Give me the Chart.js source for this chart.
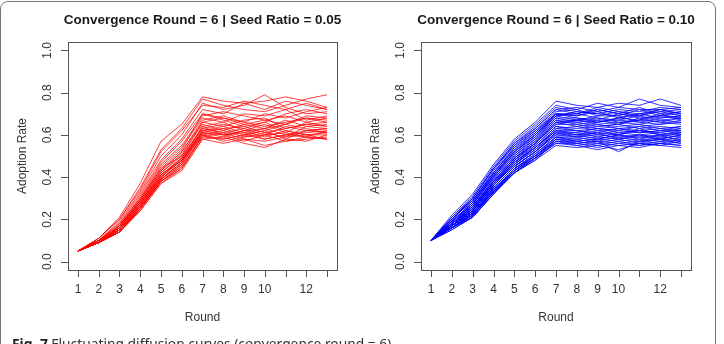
<!DOCTYPE html>
<html>
<head>
<meta charset="utf-8">
<script src="https://cdn.jsdelivr.net/npm/chart.js@4.4.1/dist/chart.umd.min.js"></script>
<style>
html, body { margin: 0; padding: 0; background: #fff; }
body { width: 724px; height: 344px; overflow: hidden; position: relative; }
.frame { position: absolute; left: -0.5px; top: 1px; width: 714px; height: 380px; border: 1.5px solid #777; border-radius: 8px; }
#leftChart { position: absolute; left: 0; top: 0; }
#rightChart { position: absolute; left: 362px; top: 0; }
.caption { position: absolute; left: 12px; top: 337px; font-family: "Noto Sans", "Open Sans", sans-serif; font-size: 13.8px; line-height: 14px; color: #333; white-space: nowrap; }
.caption b { color: #222; }
</style>
</head>
<body>
<div class="frame"></div>
<canvas id="leftChart" width="362" height="344"></canvas>
<canvas id="rightChart" width="362" height="344"></canvas>
<div class="caption"><b>Fig. 7</b> Fluctuating diffusion curves (convergence round = 6)</div>
<script>
// rounds 1..13
const rounds = [1, 2, 3, 4, 5, 6, 7, 8, 9, 10, 11, 12, 13];
const xTicks = [1, 2, 3, 4, 5, 6, 7, 8, 9, 10, 11, 12, 13];
const xTickLabels = ['1', '2', '3', '4', '5', '6', '7', '8', '9', '10', '', '12', ''];
const yTicks = [0, 0.2, 0.4, 0.6, 0.8, 1.0];
const yTickLabels = ['0.0', '0.2', '0.4', '0.6', '0.8', '1.0'];

// seed ratio 0.05 (red)
const redRuns = [
    [0.05, 0.11, 0.21, 0.37, 0.57, 0.65, 0.78, 0.76, 0.75, 0.76, 0.78, 0.76, 0.73],
    [0.05, 0.10, 0.19, 0.33, 0.50, 0.60, 0.75, 0.72, 0.74, 0.79, 0.73, 0.70, 0.71],
    [0.05, 0.11, 0.20, 0.35, 0.53, 0.63, 0.77, 0.74, 0.72, 0.71, 0.74, 0.77, 0.79],
    [0.05, 0.10, 0.18, 0.32, 0.48, 0.58, 0.72, 0.70, 0.75, 0.72, 0.76, 0.74, 0.72],
    [0.05, 0.09, 0.17, 0.31, 0.47, 0.57, 0.70, 0.68, 0.66, 0.70, 0.68, 0.71, 0.73],
    [0.05, 0.10, 0.18, 0.30, 0.46, 0.55, 0.69, 0.71, 0.69, 0.67, 0.65, 0.69, 0.68],
    [0.05, 0.09, 0.17, 0.29, 0.45, 0.54, 0.68, 0.66, 0.70, 0.69, 0.72, 0.67, 0.69],
    [0.05, 0.10, 0.16, 0.30, 0.44, 0.53, 0.70, 0.67, 0.64, 0.66, 0.70, 0.72, 0.70],
    [0.05, 0.09, 0.17, 0.28, 0.43, 0.52, 0.67, 0.69, 0.66, 0.64, 0.66, 0.68, 0.67],
    [0.05, 0.10, 0.16, 0.29, 0.44, 0.50, 0.66, 0.64, 0.67, 0.68, 0.63, 0.65, 0.66],
    [0.05, 0.09, 0.16, 0.28, 0.42, 0.51, 0.65, 0.62, 0.65, 0.63, 0.67, 0.64, 0.65],
    [0.05, 0.09, 0.15, 0.27, 0.41, 0.49, 0.64, 0.66, 0.62, 0.65, 0.61, 0.66, 0.64],
    [0.05, 0.10, 0.16, 0.28, 0.42, 0.50, 0.63, 0.61, 0.63, 0.60, 0.64, 0.62, 0.63],
    [0.05, 0.09, 0.15, 0.27, 0.40, 0.48, 0.62, 0.63, 0.60, 0.62, 0.65, 0.63, 0.61],
    [0.05, 0.09, 0.15, 0.26, 0.39, 0.47, 0.61, 0.60, 0.61, 0.58, 0.60, 0.61, 0.62],
    [0.05, 0.09, 0.14, 0.26, 0.40, 0.48, 0.60, 0.62, 0.59, 0.61, 0.59, 0.64, 0.63],
    [0.05, 0.10, 0.15, 0.27, 0.41, 0.49, 0.61, 0.59, 0.62, 0.59, 0.62, 0.60, 0.60],
    [0.05, 0.09, 0.14, 0.25, 0.38, 0.46, 0.60, 0.58, 0.60, 0.62, 0.58, 0.62, 0.61],
    [0.05, 0.09, 0.15, 0.26, 0.39, 0.47, 0.62, 0.60, 0.57, 0.60, 0.61, 0.59, 0.62],
    [0.05, 0.09, 0.14, 0.25, 0.38, 0.45, 0.59, 0.61, 0.58, 0.57, 0.59, 0.60, 0.58],
    [0.05, 0.09, 0.14, 0.24, 0.37, 0.44, 0.60, 0.57, 0.59, 0.60, 0.57, 0.58, 0.59],
    [0.05, 0.09, 0.14, 0.24, 0.37, 0.43, 0.58, 0.59, 0.56, 0.54, 0.58, 0.57, 0.60],
    [0.05, 0.10, 0.15, 0.25, 0.38, 0.45, 0.59, 0.58, 0.60, 0.58, 0.60, 0.59, 0.58],
    [0.05, 0.09, 0.14, 0.25, 0.39, 0.46, 0.61, 0.63, 0.64, 0.61, 0.63, 0.65, 0.64],
    [0.05, 0.10, 0.16, 0.27, 0.40, 0.49, 0.63, 0.65, 0.63, 0.66, 0.62, 0.60, 0.61],
    [0.05, 0.09, 0.15, 0.26, 0.39, 0.47, 0.64, 0.60, 0.62, 0.63, 0.65, 0.68, 0.66],
    [0.05, 0.10, 0.17, 0.29, 0.43, 0.52, 0.66, 0.68, 0.65, 0.67, 0.69, 0.66, 0.68],
    [0.05, 0.10, 0.16, 0.28, 0.41, 0.48, 0.62, 0.64, 0.61, 0.63, 0.60, 0.62, 0.63],
    [0.05, 0.11, 0.20, 0.34, 0.52, 0.62, 0.74, 0.73, 0.76, 0.74, 0.72, 0.75, 0.72],
    [0.05, 0.09, 0.14, 0.25, 0.38, 0.44, 0.58, 0.56, 0.58, 0.55, 0.57, 0.59, 0.58]
];

// seed ratio 0.10 (blue)
const blueRuns = [
    [0.10, 0.22, 0.32, 0.46, 0.58, 0.66, 0.76, 0.74, 0.73, 0.75, 0.74, 0.77, 0.74],
    [0.10, 0.21, 0.31, 0.45, 0.57, 0.65, 0.74, 0.72, 0.75, 0.73, 0.77, 0.74, 0.73],
    [0.10, 0.21, 0.30, 0.44, 0.56, 0.64, 0.73, 0.71, 0.70, 0.72, 0.71, 0.73, 0.72],
    [0.10, 0.20, 0.30, 0.44, 0.55, 0.63, 0.72, 0.70, 0.72, 0.70, 0.73, 0.70, 0.71],
    [0.10, 0.20, 0.29, 0.43, 0.55, 0.62, 0.71, 0.72, 0.69, 0.71, 0.69, 0.72, 0.70],
    [0.10, 0.20, 0.29, 0.42, 0.54, 0.62, 0.70, 0.69, 0.71, 0.68, 0.70, 0.71, 0.69],
    [0.10, 0.19, 0.28, 0.42, 0.53, 0.61, 0.70, 0.68, 0.67, 0.70, 0.68, 0.69, 0.70],
    [0.10, 0.19, 0.28, 0.41, 0.53, 0.60, 0.69, 0.70, 0.68, 0.67, 0.69, 0.67, 0.68],
    [0.10, 0.19, 0.27, 0.41, 0.52, 0.60, 0.69, 0.67, 0.69, 0.69, 0.66, 0.68, 0.69],
    [0.10, 0.19, 0.27, 0.40, 0.51, 0.59, 0.68, 0.68, 0.66, 0.68, 0.67, 0.70, 0.67],
    [0.10, 0.18, 0.27, 0.40, 0.51, 0.58, 0.68, 0.66, 0.67, 0.65, 0.68, 0.66, 0.68],
    [0.10, 0.18, 0.26, 0.39, 0.50, 0.58, 0.67, 0.67, 0.65, 0.66, 0.65, 0.67, 0.66],
    [0.10, 0.18, 0.26, 0.39, 0.50, 0.57, 0.67, 0.65, 0.66, 0.67, 0.66, 0.65, 0.67],
    [0.10, 0.18, 0.26, 0.38, 0.49, 0.57, 0.66, 0.66, 0.64, 0.65, 0.67, 0.66, 0.65],
    [0.10, 0.18, 0.25, 0.38, 0.49, 0.56, 0.66, 0.64, 0.65, 0.63, 0.64, 0.65, 0.66],
    [0.10, 0.18, 0.25, 0.38, 0.48, 0.56, 0.65, 0.65, 0.63, 0.64, 0.65, 0.63, 0.64],
    [0.10, 0.17, 0.25, 0.37, 0.48, 0.55, 0.64, 0.63, 0.64, 0.65, 0.63, 0.64, 0.63],
    [0.10, 0.17, 0.25, 0.37, 0.47, 0.55, 0.64, 0.62, 0.63, 0.62, 0.64, 0.62, 0.64],
    [0.10, 0.17, 0.24, 0.37, 0.47, 0.54, 0.63, 0.64, 0.62, 0.63, 0.62, 0.63, 0.62],
    [0.10, 0.17, 0.24, 0.36, 0.47, 0.54, 0.62, 0.61, 0.63, 0.61, 0.62, 0.61, 0.63],
    [0.10, 0.17, 0.24, 0.36, 0.46, 0.53, 0.62, 0.62, 0.60, 0.62, 0.61, 0.62, 0.61],
    [0.10, 0.17, 0.24, 0.36, 0.46, 0.53, 0.61, 0.60, 0.61, 0.60, 0.62, 0.60, 0.62],
    [0.10, 0.17, 0.23, 0.35, 0.45, 0.52, 0.61, 0.61, 0.59, 0.61, 0.60, 0.61, 0.60],
    [0.10, 0.17, 0.23, 0.35, 0.45, 0.52, 0.60, 0.59, 0.60, 0.59, 0.60, 0.59, 0.61],
    [0.10, 0.16, 0.23, 0.35, 0.45, 0.52, 0.60, 0.60, 0.58, 0.60, 0.58, 0.60, 0.59],
    [0.10, 0.16, 0.23, 0.34, 0.44, 0.51, 0.59, 0.58, 0.59, 0.58, 0.59, 0.58, 0.60],
    [0.10, 0.16, 0.23, 0.34, 0.44, 0.51, 0.59, 0.59, 0.57, 0.59, 0.57, 0.59, 0.58],
    [0.10, 0.16, 0.22, 0.34, 0.44, 0.50, 0.58, 0.57, 0.58, 0.57, 0.58, 0.57, 0.59],
    [0.10, 0.16, 0.22, 0.34, 0.43, 0.50, 0.58, 0.58, 0.56, 0.58, 0.56, 0.58, 0.57],
    [0.10, 0.16, 0.22, 0.33, 0.43, 0.50, 0.57, 0.56, 0.57, 0.56, 0.57, 0.56, 0.58],
    [0.10, 0.16, 0.22, 0.33, 0.43, 0.49, 0.57, 0.57, 0.55, 0.57, 0.55, 0.57, 0.56],
    [0.10, 0.16, 0.22, 0.33, 0.42, 0.49, 0.56, 0.55, 0.56, 0.55, 0.56, 0.55, 0.57],
    [0.10, 0.16, 0.21, 0.33, 0.42, 0.49, 0.56, 0.56, 0.54, 0.56, 0.55, 0.56, 0.55],
    [0.10, 0.16, 0.21, 0.32, 0.42, 0.48, 0.55, 0.54, 0.55, 0.53, 0.56, 0.55, 0.54],
    [0.10, 0.15, 0.21, 0.32, 0.42, 0.48, 0.57, 0.55, 0.53, 0.55, 0.54, 0.56, 0.55],
    [0.10, 0.15, 0.21, 0.32, 0.43, 0.49, 0.58, 0.56, 0.57, 0.52, 0.57, 0.58, 0.56],
    [0.10, 0.18, 0.27, 0.40, 0.52, 0.59, 0.69, 0.71, 0.70, 0.69, 0.72, 0.69, 0.71],
    [0.10, 0.19, 0.28, 0.41, 0.52, 0.60, 0.70, 0.69, 0.72, 0.70, 0.69, 0.71, 0.72],
    [0.10, 0.20, 0.30, 0.44, 0.56, 0.63, 0.72, 0.73, 0.71, 0.73, 0.72, 0.72, 0.73],
    [0.10, 0.17, 0.25, 0.37, 0.48, 0.56, 0.66, 0.67, 0.68, 0.66, 0.67, 0.69, 0.68],
    [0.10, 0.17, 0.24, 0.36, 0.46, 0.54, 0.63, 0.62, 0.61, 0.63, 0.61, 0.62, 0.62],
    [0.10, 0.16, 0.23, 0.35, 0.45, 0.52, 0.61, 0.59, 0.61, 0.58, 0.60, 0.58, 0.60],
    [0.10, 0.18, 0.26, 0.38, 0.49, 0.56, 0.65, 0.67, 0.66, 0.68, 0.70, 0.68, 0.69],
    [0.10, 0.20, 0.29, 0.42, 0.54, 0.61, 0.70, 0.70, 0.73, 0.71, 0.70, 0.72, 0.70],
    [0.10, 0.16, 0.22, 0.33, 0.44, 0.50, 0.59, 0.57, 0.58, 0.60, 0.59, 0.60, 0.57],
    [0.10, 0.17, 0.24, 0.36, 0.47, 0.54, 0.62, 0.60, 0.62, 0.60, 0.63, 0.60, 0.61]
];

const FONT = '"Liberation Sans", Arial, sans-serif';
const TEXT_COLOR = '#333';
const AXIS_COLOR = '#555';

// R-style box, ticks and labels drawn from the chart's scales
const rStylePlugin = {
    id: 'rStyle',
    afterDraw(chart, args, opts) {
        const { ctx, chartArea: a, scales: { x, y } } = chart;
        const cx = (a.left + a.right) / 2;
        const cy = (a.top + a.bottom) / 2;
        ctx.save();
        ctx.strokeStyle = AXIS_COLOR;
        ctx.lineWidth = 1;
        ctx.strokeRect(Math.round(a.left) + 0.5, Math.round(a.top) + 0.5,
            Math.round(a.right - a.left), Math.round(a.bottom - a.top));

        // tick marks
        ctx.beginPath();
        xTicks.forEach(v => {
            const px = Math.round(x.getPixelForValue(v)) + 0.5;
            ctx.moveTo(px, a.bottom);
            ctx.lineTo(px, a.bottom + 7);
        });
        yTicks.forEach(v => {
            const py = Math.round(y.getPixelForValue(v)) + 0.5;
            ctx.moveTo(a.left, py);
            ctx.lineTo(a.left - 7, py);
        });
        ctx.stroke();

        ctx.fillStyle = TEXT_COLOR;
        ctx.font = '12px ' + FONT;
        ctx.textAlign = 'center';
        ctx.textBaseline = 'middle';
        xTicks.forEach((v, i) => {
            ctx.fillText(xTickLabels[i], x.getPixelForValue(v), a.bottom + 20);
        });
        yTicks.forEach((v, i) => {
            ctx.save();
            ctx.translate(a.left - 20, y.getPixelForValue(v));
            ctx.rotate(-Math.PI / 2);
            ctx.fillText(yTickLabels[i], 0, 0);
            ctx.restore();
        });

        // axis titles
        ctx.font = '12px ' + FONT;
        ctx.fillText('Round', cx, a.bottom + 48);
        ctx.save();
        ctx.translate(a.left - 45, cy);
        ctx.rotate(-Math.PI / 2);
        ctx.fillText('Adoption Rate', 0, 0);
        ctx.restore();

        // main title
        ctx.fillStyle = '#1a1a1a';
        ctx.font = 'bold 13.5px ' + FONT;
        ctx.fillText(opts.title, cx, 20);
        ctx.restore();
    }
};

function makePanel(canvasId, runs, color, title, padding) {
    const datasets = runs.map(run => ({
        data: run.map((v, i) => ({ x: rounds[i], y: v })),
        borderColor: color,
        borderWidth: 1,
        pointRadius: 0,
        tension: 0,
        fill: false
    }));

    return new Chart(document.getElementById(canvasId), {
        type: 'line',
        data: { datasets: datasets },
        options: {
            responsive: false,
            animation: false,
            layout: { padding: padding },
            plugins: {
                legend: { display: false },
                tooltip: { enabled: false },
                rStyle: { title: title }
            },
            scales: {
                x: { type: 'linear', min: 0.52, max: 13.48, display: false },
                y: { type: 'linear', min: -0.04, max: 1.04, display: false }
            }
        },
        plugins: [rStylePlugin]
    });
}

makePanel('leftChart', redRuns, 'rgba(255, 0, 0, 0.75)',
    'Convergence Round = 6 | Seed Ratio = 0.05',
    { left: 68, top: 42, right: 25, bottom: 74 });

makePanel('rightChart', blueRuns, 'rgba(0, 0, 255, 0.8)',
    'Convergence Round = 6 | Seed Ratio = 0.10',
    { left: 59, top: 42, right: 33, bottom: 74 });
</script>
</body>
</html>
